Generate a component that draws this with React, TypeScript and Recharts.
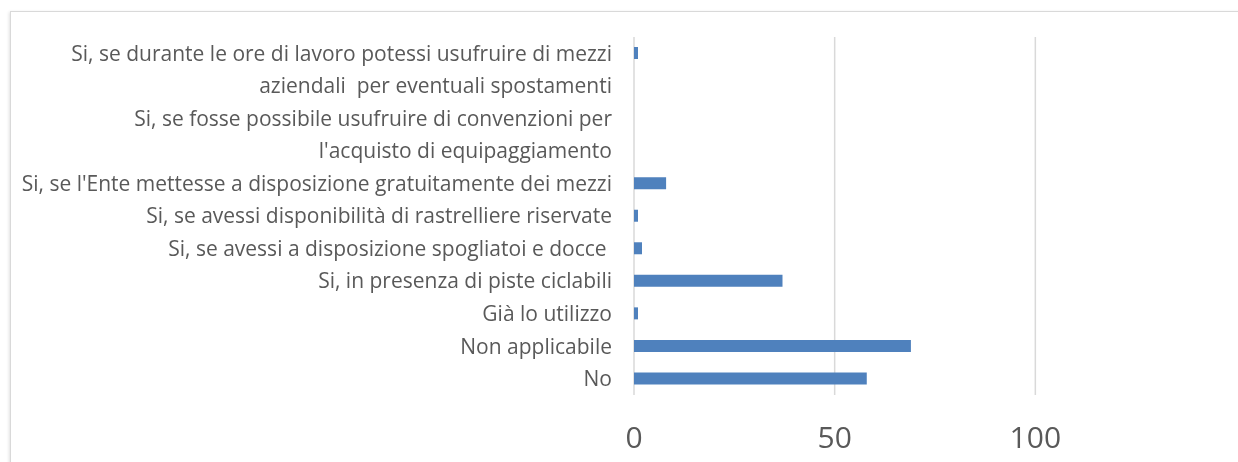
import React from "react";
import { BarChart, Bar, XAxis, YAxis, CartesianGrid } from "recharts";

const categories: string[] = [
  "Si, se durante le ore di lavoro potessi usufruire di mezzi",
  "aziendali  per eventuali spostamenti",
  "Si, se fosse possibile usufruire di convenzioni per",
  "l'acquisto di equipaggiamento",
  "Si, se l'Ente mettesse a disposizione gratuitamente dei mezzi",
  "Si, se avessi disponibilità di rastrelliere riservate",
  "Si, se avessi a disposizione spogliatoi e docce ",
  "Si, in presenza di piste ciclabili",
  "Già lo utilizzo",
  "Non applicabile",
  "No",
];
const values: number[] = [1, 0, 0, 0, 8, 1, 2, 37, 1, 69, 58];
const xTicks: number[] = [0, 50, 100];

const data = categories.map((c, i) => ({ name: c, value: values[i] }));

const FONT = "'Open Sans', sans-serif";

const YTick = (props: any) => {
  const { x, y, payload } = props;
  return (
    <text x={x} y={y} dy="0.35em" textAnchor="end" fill="#595959" fontSize={21} fontFamily={FONT} style={{ whiteSpace: "pre" }}>
      {payload.value}
    </text>
  );
};

const XTick = (props: any) => {
  const { x, y, payload } = props;
  return (
    <text x={x} y={y} dy="0.71em" textAnchor="middle" fill="#595959" fontSize={30} fontFamily={FONT}>
      {payload.value}
    </text>
  );
};

export default function App() {
  return (
    <>
      <style>{"html,body{overflow:hidden;}"}</style>
      <div
        style={{
          position: "fixed",
          left: 10,
          top: 11,
          width: 1400,
          height: 600,
          borderTop: "1px solid #d9d9d9",
          borderLeft: "1px solid #d9d9d9",
          boxShadow: "-1px 1px 3px rgba(0,0,0,0.12)",
          background: "#fff",
        }}
      />
      <div style={{ position: "relative", width: 1230, height: 454 }}>
        <BarChart
          width={1230}
          height={454}
          data={data}
          layout="vertical"
          margin={{ top: 29, right: 2, bottom: 0, left: 0 }}
        >
          <CartesianGrid horizontal={false} vertical={true} stroke="#d9d9d9" strokeWidth={1.5} />
          <XAxis
            type="number"
            domain={[0, 150]}
            ticks={xTicks}
            axisLine={false}
            tickLine={false}
            tickSize={0}
            height={67}
            tickMargin={32}
            tick={<XTick />}
            interval={0}
          />
          <YAxis
            type="category"
            dataKey="name"
            width={626}
            axisLine={false}
            tickLine={false}
            tickSize={0}
            tickMargin={22}
            interval={0}
            tick={<YTick />}
          />
          <Bar dataKey="value" fill="#4f81bd" barSize={12} isAnimationActive={false} />
        </BarChart>
      </div>
    </>
  );
}
